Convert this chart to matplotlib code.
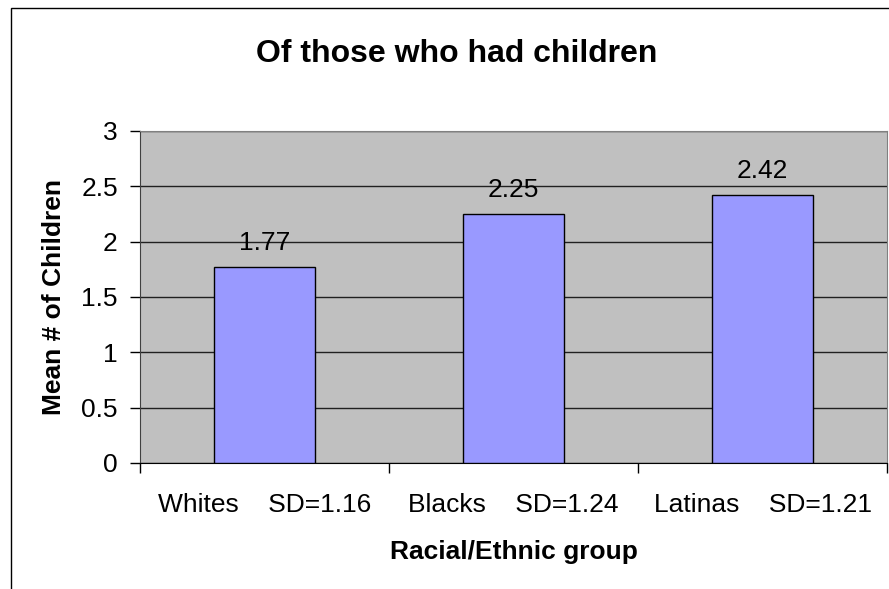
import matplotlib.pyplot as plt
from matplotlib.patches import Rectangle

plt.rcParams['font.family'] = ['Liberation Sans', 'DejaVu Sans']

# Data
groups = ['Whites', 'Blacks', 'Latinas']
sds = ['1.16', '1.24', '1.21']
means = [1.77, 2.25, 2.42]
tick_labels = [f'{g}    SD={s}' for g, s in zip(groups, sds)]

fig = plt.figure(figsize=(8.89, 5.89), dpi=100)
ax = fig.add_axes([140 / 889, 126 / 589, 747 / 889, 332 / 589])

# ramme rundt om diagrammet (skåret af til højre og forneden)
fig.patches.append(Rectangle((10.5 / 889, -0.05), 1.2, 1.05 - 7.5 / 589,
                             transform=fig.transFigure, fill=False,
                             edgecolor='black', linewidth=1.0))

ax.set_facecolor('#C0C0C0')
x = range(len(groups))
bars = ax.bar(x, means, width=0.405, color='#9999FF', edgecolor='black', linewidth=1.0, zorder=3)

for b, v in zip(bars, means):
    ax.annotate(f'{v:.2f}', (b.get_x() + b.get_width() / 2, v), xytext=(0, 12.5),
                textcoords='offset points', ha='center', va='baseline',
                fontsize=19, zorder=4)

ax.set_xlim(-0.5, 2.5)
ax.set_ylim(0, 3)
ax.set_yticks([0, 0.5, 1, 1.5, 2, 2.5, 3])
ax.set_yticklabels(['0', '0.5', '1', '1.5', '2', '2.5', '3'], fontsize=19)
ax.yaxis.grid(True, color='#202020', linewidth=1.0, zorder=1)
ax.set_axisbelow(True)

ax.set_xticks([-0.5, 0.5, 1.5, 2.5])
ax.set_xticklabels([])
ax.set_xticks(list(x), minor=True)
ax.set_xticklabels(tick_labels, minor=True, fontsize=19)
ax.tick_params(axis='x', which='major', direction='out', length=7, width=1, color='black')
ax.tick_params(axis='x', which='minor', length=0, pad=21.5)
ax.tick_params(axis='y', direction='out', length=7, width=1, pad=9)

for side in ['top', 'right']:
    ax.spines[side].set_color('#808080')
ax.spines['left'].set_color('#404040')
ax.spines['bottom'].set_color('black')

ax.set_ylabel('Mean # of Children', fontsize=19, fontweight='bold', labelpad=11)
ax.set_xlabel('Racial/Ethnic group', fontsize=19, fontweight='bold', labelpad=17)
fig.text(457 / 889, 1 - 54 / 589, 'Of those who had children', ha='center', va='center',
         fontsize=23, fontweight='bold')

plt.savefig('out.png', dpi=100)
